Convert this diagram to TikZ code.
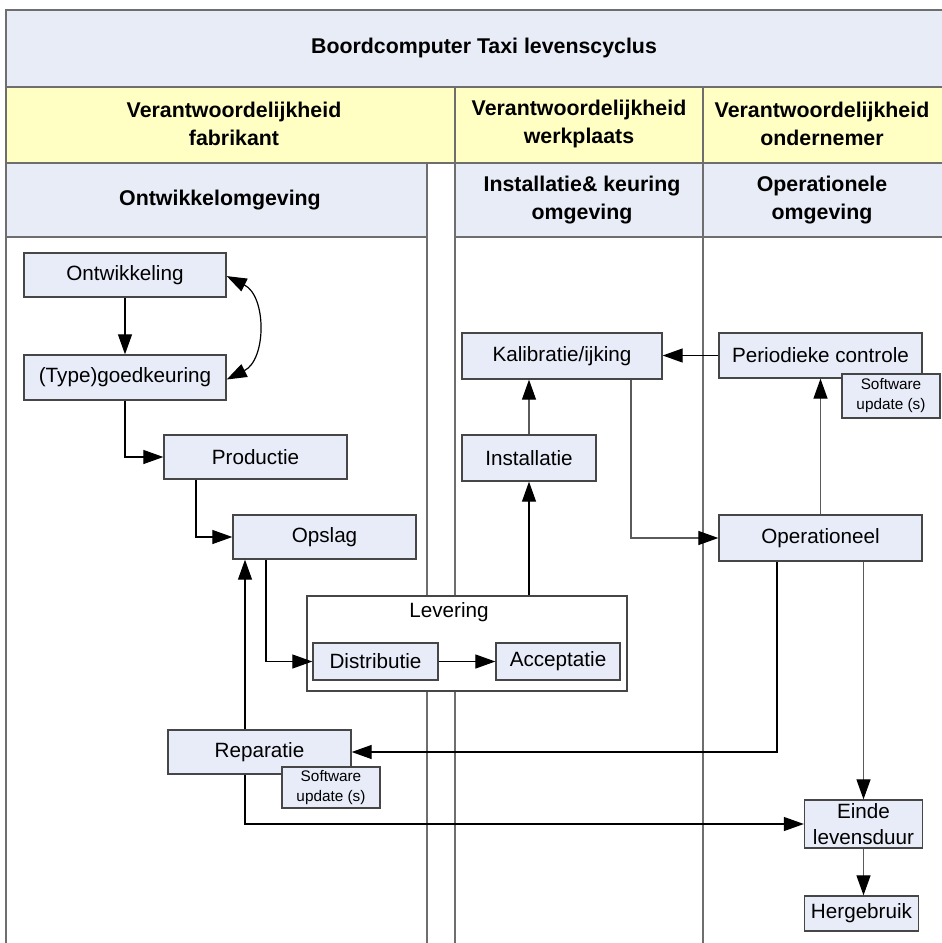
\documentclass[tikz,border=0pt]{standalone}
\usepackage{fontspec}
\setmainfont{Liberation Sans}
\usetikzlibrary{arrows.meta}

\definecolor{hdrblue}{RGB}{232,236,247}
\definecolor{hdryellow}{RGB}{255,255,196}
\definecolor{boxblue}{RGB}{232,236,248}
\definecolor{laneline}{RGB}{110,110,110}
\definecolor{boxline}{RGB}{70,70,70}
\definecolor{greyflow}{RGB}{90,90,90}

\tikzset{every picture/.style={line width=0.75pt}}
\tikzset{
  boxsize/.style 2 args={minimum width=#1*0.75pt, minimum height=#2*0.75pt},
  procbox/.style={draw=boxline, fill=boxblue, line width=1pt, inner sep=0pt, align=center, font=\fontsize{15.5}{19.5}\selectfont},
  swbox/.style={procbox, font=\fontsize{11.5}{15}\selectfont},
  levbox/.style={draw=boxline, fill=white, line width=1pt, inner sep=0pt},
  hdrtext/.style={align=center, font=\bfseries\fontsize{16}{21}\selectfont},
  lane/.style={draw=laneline, line width=1.1pt},
  flow/.style={draw=black, line width=0.9pt, -{Triangle[length=15pt,width=10.5pt,color=black]}},
  flowgrey/.style={flow, draw=greyflow},
  flowboth/.style={draw=black, line width=0.9pt, {Triangle[length=15pt,width=10.5pt]}-{Triangle[length=15pt,width=10.5pt]}},
}

\begin{document}
\begin{tikzpicture}[x=0.75pt,y=0.75pt,yscale=-1,xscale=1]
\path[use as bounding box] (0,0) rectangle (942,943);

%Shape: header bands
\fill[hdrblue] (6,10) rectangle (942,87);
\fill[hdryellow] (6,87) rectangle (942,163);
\fill[hdrblue] (6,163) rectangle (427,237);
\fill[hdrblue] (455,163) rectangle (942,237);

%Straight Lines: frame and lanes
\draw[lane] (6,943) -- (6,10) -- (942,10);
\draw[lane] (6,87) -- (942,87);
\draw[lane] (6,163) -- (942,163);
\draw[lane] (6,237) -- (427,237);
\draw[lane] (455,237) -- (942,237);
\draw[lane] (427,163) -- (427,943);
\draw[lane] (455,87) -- (455,943);
\draw[lane] (703,87) -- (703,943);

% Text Node
\node[hdrtext] (title) at (484,48) {Boordcomputer Taxi levenscyclus};
\node[hdrtext] (vfab) at (234,124) {Verantwoordelijkheid\\fabrikant};
\node[hdrtext] (vwerk) at (579,124) {Verantwoordelijkheid\\werkplaats};
\node[hdrtext] (vond) at (822,124) {Verantwoordelijkheid\\ondernemer};
\node[hdrtext] (omgont) at (220,200) {Ontwikkelomgeving};
\node[hdrtext] (omginst) at (582,200) {Installatie\& keuring\\omgeving};
\node[hdrtext] (omgoper) at (822,200) {Operationele\\omgeving};

%Shape: process boxes
\node[procbox, boxsize={202}{44}] (ontw) at (125,275) {Ontwikkeling};
\node[procbox, boxsize={202}{45}] (goed) at (125,377.5) {(Type)goedkeuring};
\node[procbox, boxsize={183}{44}] (prod) at (255.5,457) {Productie};
\node[procbox, boxsize={183}{44}] (opsl) at (324.5,537) {Opslag};
\node[levbox, boxsize={320}{95}] (lev) at (467,643.5) {};
\node[font=\fontsize{15.5}{19.5}\selectfont] (levlabel) at (449,612) {Levering};
\node[procbox, boxsize={125}{37}] (dist) at (375.5,661.5) {Distributie};
\node[procbox, boxsize={124}{37}] (acc) at (558,661.5) {Acceptatie};
\node[procbox, boxsize={183}{44}] (rep) at (259.5,752) {Reparatie};
\node[swbox, boxsize={98}{41}] (swrep) at (331,787.5) {Software\\update (s)};
\node[procbox, boxsize={200}{46}] (kal) at (562,356) {Kalibratie/ijking};
\node[procbox, boxsize={134}{46}] (inst) at (529,458) {Installatie};
\node[procbox, boxsize={203}{45}] (per) at (820.5,355.5) {Periodieke controle};
\node[swbox, boxsize={98}{44}] (swper) at (891,396) {Software\\update (s)};
\node[procbox, boxsize={203}{46}] (oper) at (820.5,538) {Operationeel};
\node[procbox, boxsize={118}{48}] (einde) at (863.5,824) {Einde\\levensduur};
\node[procbox, boxsize={114}{35}] (herg) at (861.5,913.5) {Hergebruik};

% connector columns
\coordinate (xprod) at (196,0);
\coordinate (xopsl) at (266,0);
\coordinate (xrep) at (245,0);
\coordinate (xkal) at (631,0);
\coordinate (xoper) at (777,0);

%Straight Lines: flow
\draw[flow] (ontw.south) -- (goed.north);
\draw[flowboth] ([yshift=0.8pt]ontw.east) .. controls +(40,20) and +(40,-20) .. ([yshift=1.5pt]goed.east);
\draw[flow] (goed.south) |- (prod.west);
\draw[flow] (prod.south -| xprod) |- (opsl.west);
\draw[flow] (opsl.south -| xopsl) |- (dist.west);
\draw[flow] (dist.east) -- (acc.west);
\draw[flow] (rep.north -| xrep) -- (opsl.south -| xrep);
\draw[flow] (lev.north -| inst.south) -- (inst.south);
\draw[flowgrey] (inst.north) -- (inst.north |- kal.south);
\draw[flow] (per.west) -- (per.west -| kal.east);
\draw[flowgrey] (kal.south -| xkal) |- (oper.west);
\draw[flowgrey] (oper.north) -- (per.south);
\draw[flow] (oper.south -| xoper) |- (rep.east);
\draw[flowgrey] (oper.south -| einde.north) -- (einde.north);
\draw[flow] (rep.south -| xrep) |- (einde.west);
\draw[flowgrey] (einde.south) -- (einde.south |- herg.north);

\end{tikzpicture}
\end{document}
